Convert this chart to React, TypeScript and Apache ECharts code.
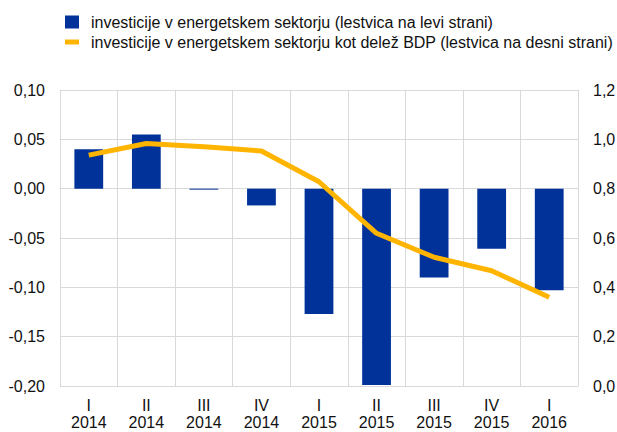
import React, { useEffect, useRef } from "react";
import * as echarts from "echarts";

const quarters = ["I", "II", "III", "IV", "I", "II", "III", "IV", "I"];
const years = ["2014", "2014", "2014", "2014", "2015", "2015", "2015", "2015", "2016"];
const investment = [0.04, 0.055, -0.001, -0.017, -0.127, -0.199, -0.09, -0.061, -0.103];
const shareOfGdp = [0.936, 0.983, 0.97, 0.953, 0.828, 0.619, 0.522, 0.467, 0.36];
const barName = "investicije v energetskem sektorju (lestvica na levi strani)";
const lineName = "investicije v energetskem sektorju kot delež BDP (lestvica na desni strani)";

const FONT = "Arial, 'Liberation Sans', sans-serif";
const GRID = "#d9d9d9";
const TEXT = "#111111";

export default function App() {
  const ref = useRef<HTMLDivElement>(null);
  useEffect(() => {
    if (!ref.current) return;
    const chart = echarts.init(ref.current, undefined, { renderer: "svg" });
    const categories = quarters.map((q, i) => q + "\n" + years[i]);
    chart.setOption({
      animation: false,
      backgroundColor: "#ffffff",
      textStyle: { fontFamily: FONT },
      legend: [
        {
          orient: "vertical",
          left: 60,
          top: 9,
          itemWidth: 14,
          itemHeight: 13,
          icon: "rect",
          data: [barName],
          textStyle: { fontSize: 16, color: TEXT, fontFamily: FONT, padding: [0, 0, 0, 7] },
        },
        {
          orient: "vertical",
          left: 60,
          top: 29,
          itemWidth: 14,
          itemHeight: 5,
          icon: "rect",
          data: [lineName],
          textStyle: { fontSize: 16, color: TEXT, fontFamily: FONT, padding: [0, 0, 0, 7] },
        },
      ],
      grid: { left: 60, right: 39, top: 90, bottom: 46, outerBoundsMode: "none", containLabel: false },
      xAxis: {
        type: "category",
        data: categories,
        boundaryGap: true,
        axisTick: { show: false },
        axisLine: { show: true, lineStyle: { color: GRID, width: 1 } },
        splitLine: { show: true, interval: 0, lineStyle: { color: GRID, width: 1 } },
        axisLabel: {
          interval: 0,
          margin: 11,
          fontSize: 16,
          lineHeight: 17,
          color: TEXT,
          fontFamily: FONT,
        },
      },
      yAxis: [
        {
          type: "value",
          min: -0.2,
          max: 0.1,
          interval: 0.05,
          position: "left",
          axisLine: { show: true, lineStyle: { color: GRID, width: 1 } },
          axisTick: { show: false },
          splitLine: { show: true, lineStyle: { color: GRID, width: 1 } },
          axisLabel: {
            margin: 15,
            fontSize: 16,
            color: TEXT,
            fontFamily: FONT,
            formatter: (v: number) => v.toFixed(2).replace(".", ","),
          },
        },
        {
          type: "value",
          min: 0,
          max: 1.2,
          interval: 0.2,
          position: "right",
          axisLine: { show: true, lineStyle: { color: GRID, width: 1 } },
          axisTick: { show: false },
          splitLine: { show: false },
          axisLabel: {
            margin: 15,
            fontSize: 16,
            color: TEXT,
            fontFamily: FONT,
            formatter: (v: number) => v.toFixed(1).replace(".", ","),
          },
        },
      ],
      series: [
        {
          name: barName,
          type: "bar",
          yAxisIndex: 0,
          data: investment,
          barWidth: "50%",
          itemStyle: { color: "#003299" },
        },
        {
          name: lineName,
          type: "line",
          yAxisIndex: 1,
          data: shareOfGdp,
          symbol: "none",
          lineStyle: { color: "#FFB400", width: 5 },
          itemStyle: { color: "#FFB400" },
        },
      ],
    });
    return () => chart.dispose();
  }, []);
  return (
    <div
      ref={ref}
      style={{ position: "fixed", left: 0, top: 0, width: 617, height: 432, background: "#fff" }}
    />
  );
}
